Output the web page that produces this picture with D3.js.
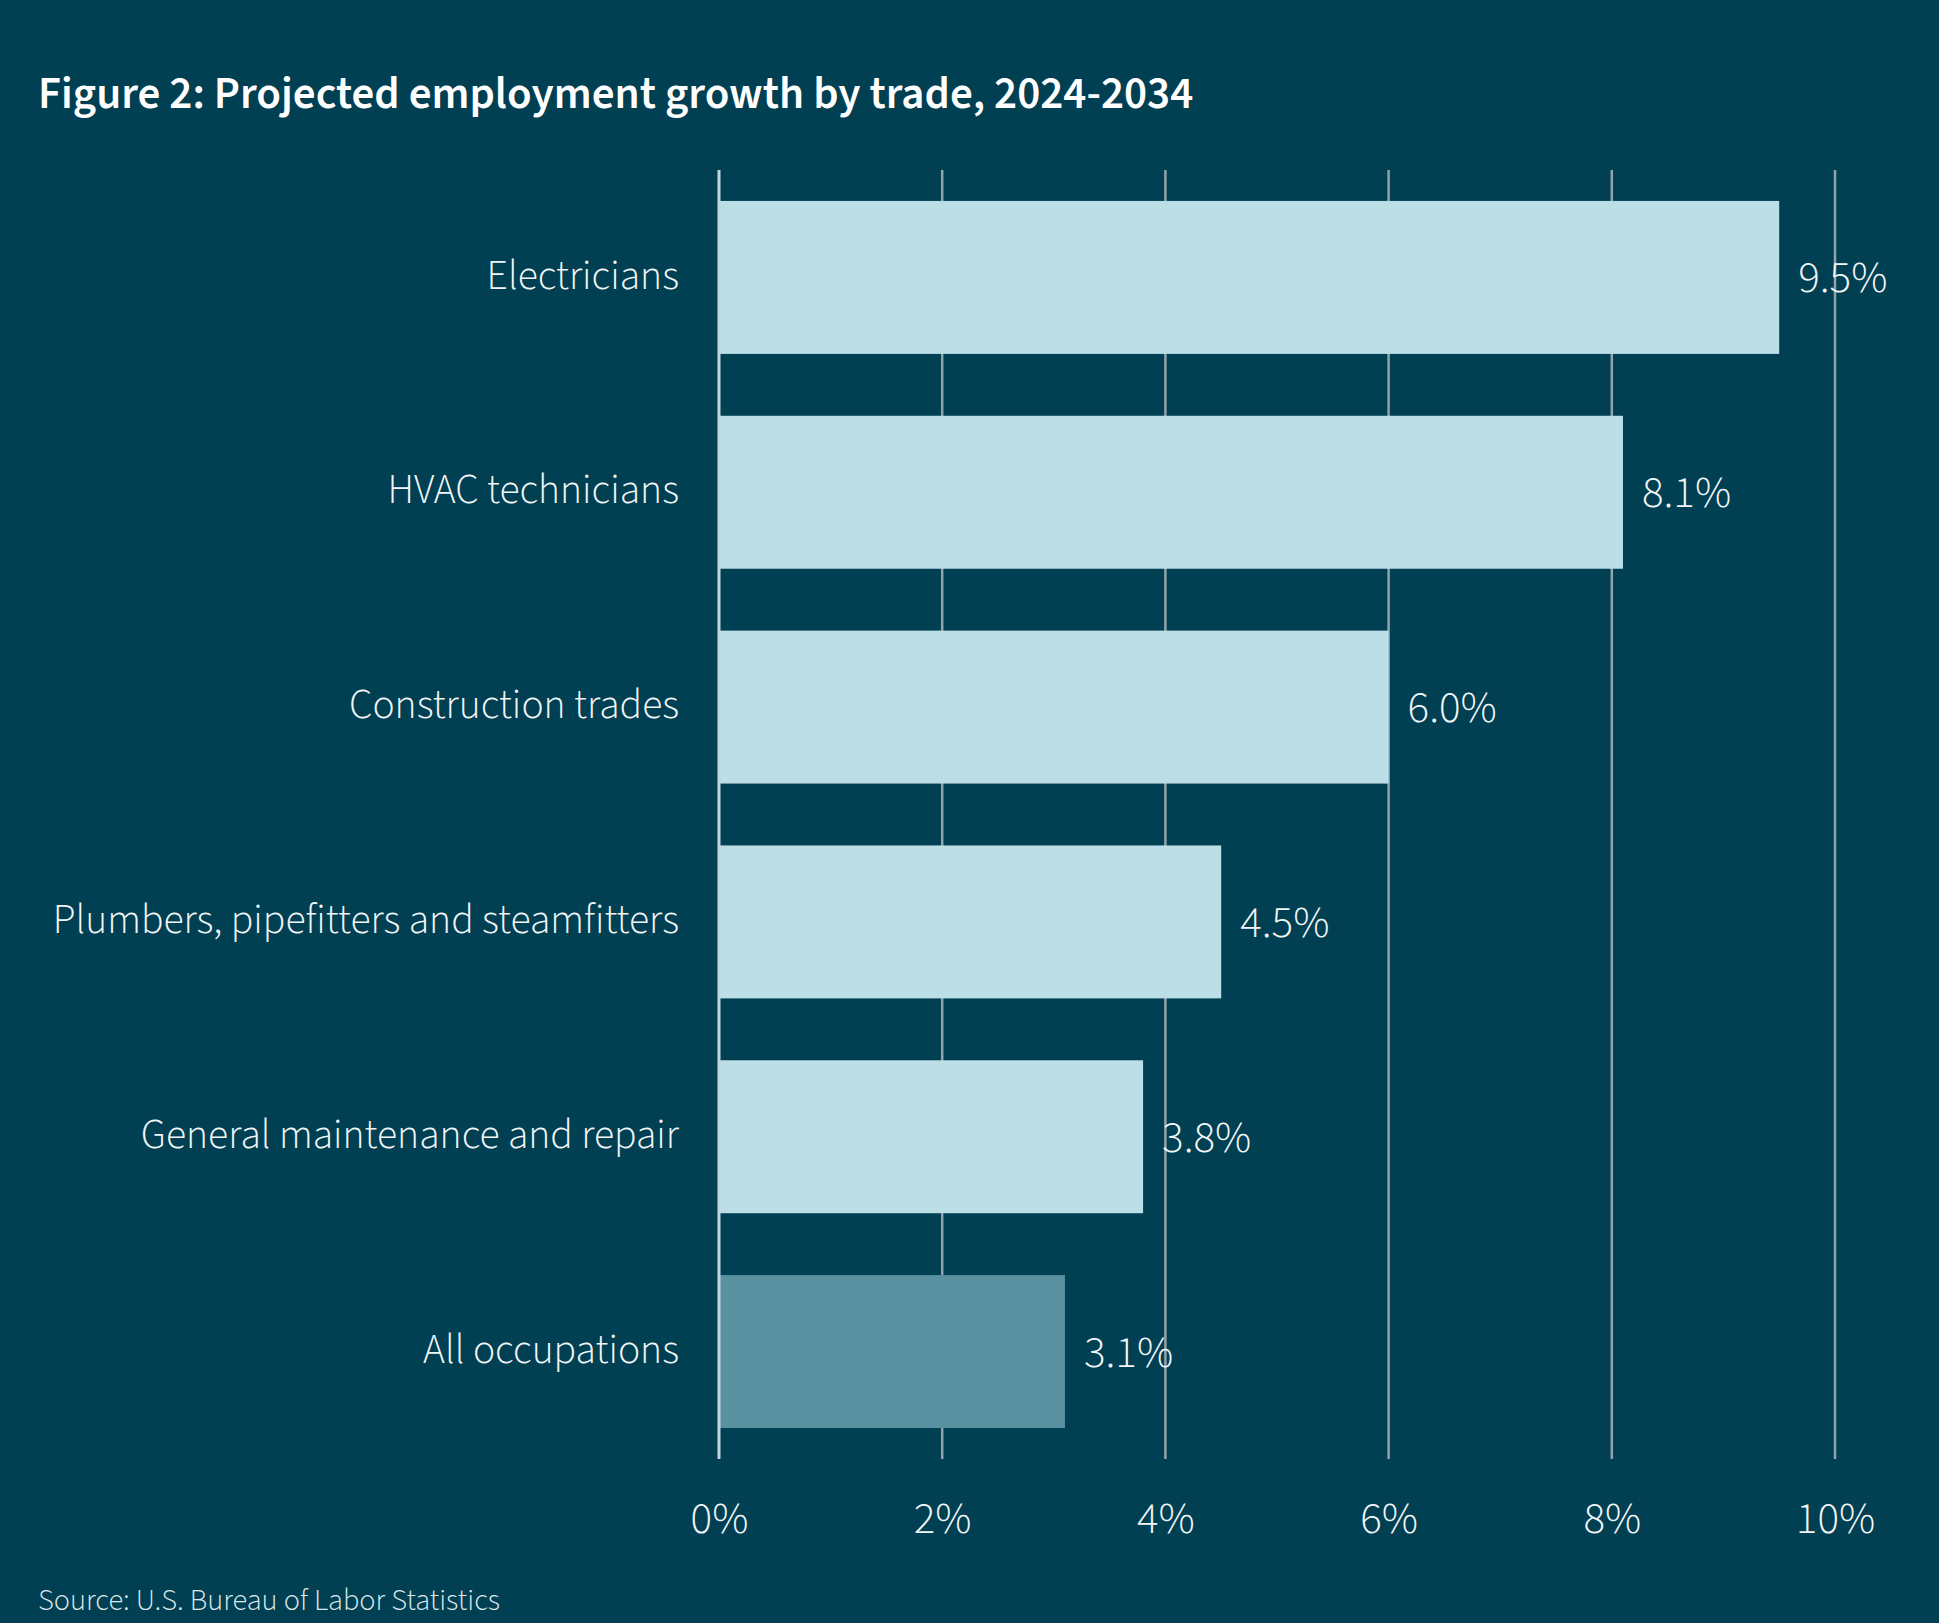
<!DOCTYPE html>
<html>
<head>
<meta charset="utf-8">
<script src="https://cdn.jsdelivr.net/npm/d3@7"></script>
<style>
  html, body { margin: 0; padding: 0; background: #013f52; }
  svg { display: block; }
</style>
</head>
<body>
<div id="chart"></div>
<script>
var trades = ['Electricians', 'HVAC technicians', 'Construction trades',
              'Plumbers, pipefitters and steamfitters', 'General maintenance and repair',
              'All occupations'];
var growth = [9.5, 8.1, 6.0, 4.5, 3.8, 3.1];
var xTicks = [0, 2, 4, 6, 8, 10];
var titleText = 'Figure 2: Projected employment growth by trade, 2024-2034';
var sourceText = 'Source: U.S. Bureau of Labor Statistics';

var width = 1939, height = 1623;
var fontStack = '"Source Sans Pro", "Source Sans 3", Lato, "Noto Sans", sans-serif';

var svg = d3.select('#chart').append('svg')
            .attr('width', width)
            .attr('height', height);

svg.append('rect')
    .attr('width', width)
    .attr('height', height)
    .attr('fill', '#013f52');

var x = d3.scaleLinear().domain([0, 10]).range([719, 1835]);
var y = d3.scaleBand().domain(trades).range([170, 1459])
          .paddingInner(0.288).paddingOuter(0.144);

// vertical gridlines, behind the bars
svg.append('g').selectAll('line')
    .data(xTicks.filter(function(d){ return d > 0; }))
    .enter().append('line')
    .attr('x1', function(d){ return x(d); })
    .attr('x2', function(d){ return x(d); })
    .attr('y1', 170)
    .attr('y2', 1459)
    .attr('stroke', '#92a4ab')
    .attr('stroke-width', 2.5);

var data = trades.map(function(t, i){ return {name: t, value: growth[i]}; });

svg.append('g').selectAll('rect')
    .data(data)
    .enter().append('rect')
    .attr('x', x(0))
    .attr('y', function(d){ return y(d.name); })
    .attr('width', function(d){ return x(d.value) - x(0); })
    .attr('height', y.bandwidth())
    .attr('fill', function(d){ return d.name === 'All occupations' ? '#5a91a1' : '#bcdfe7'; });

// zero line
svg.append('line')
    .attr('x1', x(0)).attr('x2', x(0))
    .attr('y1', 170).attr('y2', 1459)
    .attr('stroke', '#c4d6dc')
    .attr('stroke-width', 3);

// x axis labels
var xAxis = d3.axisBottom(x)
              .tickValues(xTicks)
              .tickSize(0)
              .tickPadding(0)
              .tickFormat(function(d){ return d + '%'; });
var gx = svg.append('g')
            .attr('transform', 'translate(0,1533)')
            .call(xAxis);
gx.select('.domain').remove();
gx.selectAll('text')
    .attr('dy', 0)
    .attr('fill', '#f2f6f7')
    .style('font-family', fontStack)
    .style('font-weight', 300)
    .style('font-size', '45px');

// category labels
var yAxis = d3.axisLeft(y).tickSize(0).tickPadding(0);
var gy = svg.append('g')
            .attr('transform', 'translate(679,0)')
            .call(yAxis);
gy.select('.domain').remove();
gy.selectAll('text')
    .attr('dy', '0.27em')
    .attr('fill', '#f2f6f7')
    .style('font-family', fontStack)
    .style('font-weight', 300)
    .style('font-size', '41.5px');

// value labels
svg.append('g').selectAll('text')
    .data(data)
    .enter().append('text')
    .attr('x', function(d){ return x(d.value) + 19; })
    .attr('y', function(d){ return y(d.name) + y.bandwidth() / 2 + 15; })
    .attr('fill', '#f2f6f7')
    .style('font-family', fontStack)
    .style('font-weight', 300)
    .style('font-size', '45px')
    .text(function(d){ return d.value.toFixed(1) + '%'; });

svg.append('text')
    .attr('x', 38)
    .attr('y', 108)
    .attr('fill', '#ffffff')
    .style('font-family', fontStack)
    .style('font-weight', 600)
    .style('font-size', '45px')
    .text(titleText);

svg.append('text')
    .attr('x', 38)
    .attr('y', 1610)
    .attr('fill', '#dfe9ec')
    .style('font-family', fontStack)
    .style('font-weight', 300)
    .style('font-size', '30.3px')
    .text(sourceText);
</script>
</body>
</html>
